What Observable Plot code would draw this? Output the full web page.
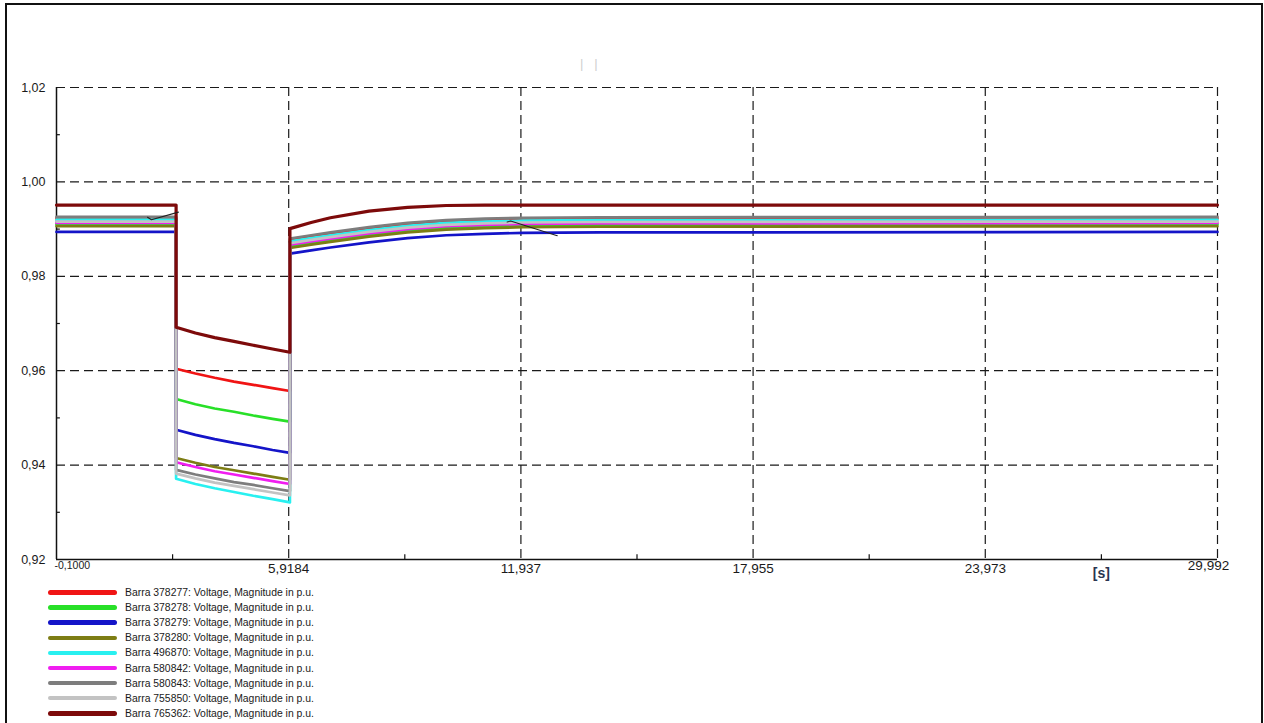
<!DOCTYPE html>
<html><head><meta charset="utf-8">
<script src="https://cdn.jsdelivr.net/npm/d3@7"></script>
<script src="https://cdn.jsdelivr.net/npm/@observablehq/plot@0.6"></script>
<style>
html,body{margin:0;padding:0;background:#fff;}
#wrap{position:relative;width:1264px;height:723px;overflow:hidden;font-family:"Liberation Sans",Arial,sans-serif;}
#frame{position:absolute;left:5px;top:3px;width:1258px;height:760px;border:2.5px solid #111;box-sizing:border-box;}
#chart{position:absolute;left:0;top:0;}
#legend{position:absolute;left:48px;top:585px;}
.row{height:15.1px;display:flex;align-items:center;}
.sw{width:69px;height:4.5px;border-radius:2.5px;margin-right:8px;}
.lb{font-size:10.4px;color:#1a1a1a;white-space:nowrap;}
#title{position:absolute;left:580px;top:56px;color:#cfcfcf;font-size:13px;}
</style></head>
<body><div id="wrap"><div id="frame"></div><div id="title">|&nbsp;&nbsp;&nbsp;|</div><div id="chart"></div><div id="legend"></div></div>
<script>
const seriesNames = [
  "Barra 378277: Voltage, Magnitude in p.u.",
  "Barra 378278: Voltage, Magnitude in p.u.",
  "Barra 378279: Voltage, Magnitude in p.u.",
  "Barra 378280: Voltage, Magnitude in p.u.",
  "Barra 496870: Voltage, Magnitude in p.u.",
  "Barra 580842: Voltage, Magnitude in p.u.",
  "Barra 580843: Voltage, Magnitude in p.u.",
  "Barra 755850: Voltage, Magnitude in p.u.",
  "Barra 765362: Voltage, Magnitude in p.u."
];
const seriesColors = ["#f01414","#28e028","#1414c8","#7d7d14","#28f0f0","#f01ef0","#7d7d7d","#c3c3c3","#7d0a0a"];

// time samples (s)
const times = [-0.1, 3.0, 3.0, 3.5, 4.0, 4.5, 5.0, 5.5, 5.95, 5.95, 6.5, 7.0, 8.0, 9.0, 10.0, 11.0, 12.0, 14.0, 29.992];

const v378277 = [0.9923, 0.9923, 0.9604, 0.9594, 0.9585, 0.9577, 0.9570, 0.9563, 0.9557, 0.9877, 0.9884, 0.9890, 0.9901, 0.9910, 0.9916, 0.9919, 0.9921, 0.9922, 0.9923];
const v378278 = [0.9910, 0.9910, 0.9540, 0.9529, 0.9520, 0.9513, 0.9505, 0.9498, 0.9492, 0.9864, 0.9871, 0.9877, 0.9888, 0.9897, 0.9903, 0.9906, 0.9908, 0.9909, 0.9910];
const v378279 = [0.9894, 0.9894, 0.9475, 0.9464, 0.9455, 0.9447, 0.9440, 0.9432, 0.9426, 0.9848, 0.9855, 0.9861, 0.9872, 0.9881, 0.9887, 0.9890, 0.9892, 0.9893, 0.9894];
const v378280 = [0.9906, 0.9906, 0.9415, 0.9405, 0.9396, 0.9389, 0.9382, 0.9375, 0.9369, 0.9860, 0.9867, 0.9873, 0.9884, 0.9893, 0.9899, 0.9902, 0.9904, 0.9905, 0.9906];
const v496870 = [0.9920, 0.9920, 0.9371, 0.9360, 0.9351, 0.9343, 0.9335, 0.9328, 0.9321, 0.9874, 0.9881, 0.9887, 0.9898, 0.9907, 0.9913, 0.9916, 0.9918, 0.9919, 0.9920];
const v580842 = [0.9913, 0.9913, 0.9406, 0.9396, 0.9387, 0.9380, 0.9373, 0.9366, 0.9360, 0.9867, 0.9874, 0.9880, 0.9891, 0.9900, 0.9906, 0.9909, 0.9911, 0.9912, 0.9913];
const v580843 = [0.9926, 0.9926, 0.9390, 0.9380, 0.9372, 0.9364, 0.9358, 0.9351, 0.9345, 0.9880, 0.9887, 0.9893, 0.9904, 0.9913, 0.9919, 0.9922, 0.9924, 0.9925, 0.9926];
const v755850 = [0.9916, 0.9916, 0.9382, 0.9372, 0.9363, 0.9356, 0.9349, 0.9342, 0.9336, 0.9870, 0.9877, 0.9883, 0.9894, 0.9903, 0.9909, 0.9912, 0.9914, 0.9915, 0.9916];
const v765362 = [0.9951, 0.9951, 0.9692, 0.9680, 0.9670, 0.9662, 0.9654, 0.9646, 0.9639, 0.9901, 0.9914, 0.9924, 0.9938, 0.9946, 0.9950, 0.9951, 0.9951, 0.9951, 0.9951];
const seriesValues = [v378277, v378278, v378279, v378280, v496870, v580842, v580843, v755850, v765362];

// thin dark trace fragments visible in the picture
const traceA_t = [2.26, 2.36, 3.06];
const traceA_v = [0.9925, 0.9920, 0.9936];
const traceB_t = [11.58, 11.67, 12.88];
const traceB_v = [0.9915, 0.9917, 0.9886];

const xTicks = [-0.1, 5.9184, 11.937, 17.955, 23.973, 29.992];
const xTickLabels = ["-0,1000", "5,9184", "11,937", "17,955", "23,973", "29,992"];
const xMinor = [2.9092, 8.9277, 14.946, 20.964, 26.9825];
const xUnit = "[s]";
const yTicks = [0.92, 0.94, 0.96, 0.98, 1.00, 1.02];
const yTickLabels = ["0,92", "0,94", "0,96", "0,98", "1,00", "1,02"];
const yMinor = [0.93, 0.95, 0.97, 0.99, 1.01];

const rows = [];
seriesNames.forEach((name, i) => times.forEach((t, j) => rows.push({name, t, v: seriesValues[i][j]})));
const lastName = seriesNames[seriesNames.length - 1];
const traces = [];
traceA_t.forEach((t, j) => traces.push({k: "a", t, v: traceA_v[j]}));
traceB_t.forEach((t, j) => traces.push({k: "b", t, v: traceB_v[j]}));

const grid = {stroke: "#1a1a1a", strokeWidth: 1.2, strokeDasharray: "9,5"};
const chart = Plot.plot({
  width: 1264, height: 590,
  marginTop: 87, marginBottom: 31, marginLeft: 56, marginRight: 47,
  x: {domain: [-0.1, 29.992], axis: null},
  y: {domain: [0.92, 1.02], axis: null},
  color: {domain: seriesNames, range: seriesColors},
  style: {background: "transparent", fontFamily: "Liberation Sans, Arial, sans-serif"},
  marks: [
    Plot.ruleX(xTicks.slice(1), grid),
    Plot.ruleY(yTicks.slice(1), grid),
    Plot.ruleX(xMinor, {y1: 0.92, y2: 0.921, stroke: "#111", strokeWidth: 1.2}),
    Plot.ruleY(yMinor, {x1: -0.1, x2: 0.0, stroke: "#111", strokeWidth: 1.2}),
    Plot.ruleX([-0.1], {stroke: "#111", strokeWidth: 1.5}),
    Plot.ruleY([0.92], {stroke: "#111", strokeWidth: 1.5}),
    Plot.line(rows.filter(d => d.name !== lastName), {x: "t", y: "v", z: "name", stroke: "name", strokeWidth: 2.7}),
    Plot.line(rows.filter(d => d.name === lastName), {x: "t", y: "v", z: "name", stroke: "name", strokeWidth: 3.2}),
    Plot.line(traces, {x: "t", y: "v", z: "k", stroke: "#222", strokeWidth: 1.1}),
    Plot.text(yTicks, {y: d => d, text: (d, i) => yTickLabels[i], frameAnchor: "left", textAnchor: "end", dx: -11, fontSize: 12.5, fill: "#1a1a1a"}),
    Plot.text(xTicks.slice(0, 1), {x: d => d, text: () => xTickLabels[0], frameAnchor: "bottom", textAnchor: "start", dx: -2, dy: 9, fontSize: 10.5, fill: "#1a1a1a"}),
    Plot.text(xTicks.slice(1, 5), {x: d => d, text: (d, i) => xTickLabels[i + 1], frameAnchor: "bottom", dy: 13, fontSize: 13.5, fill: "#1a1a1a"}),
    Plot.text(xTicks.slice(5), {x: d => d, text: () => xTickLabels[5], frameAnchor: "bottom", dx: -9, dy: 10, fontSize: 13.5, fill: "#1a1a1a"}),
    Plot.text([xUnit], {x: () => xMinor[4], text: d => d, frameAnchor: "bottom", dy: 18, fontSize: 14, fontWeight: "bold", fill: "#2a3550"})
  ]
});
document.getElementById("chart").appendChild(chart);

const legend = document.getElementById("legend");
seriesNames.forEach((name, i) => {
  const row = document.createElement("div");
  row.className = "row";
  const sw = document.createElement("div");
  sw.className = "sw";
  sw.style.background = seriesColors[i];
  const lb = document.createElement("span");
  lb.className = "lb";
  lb.textContent = name;
  row.appendChild(sw); row.appendChild(lb);
  legend.appendChild(row);
});
</script>
</body></html>
